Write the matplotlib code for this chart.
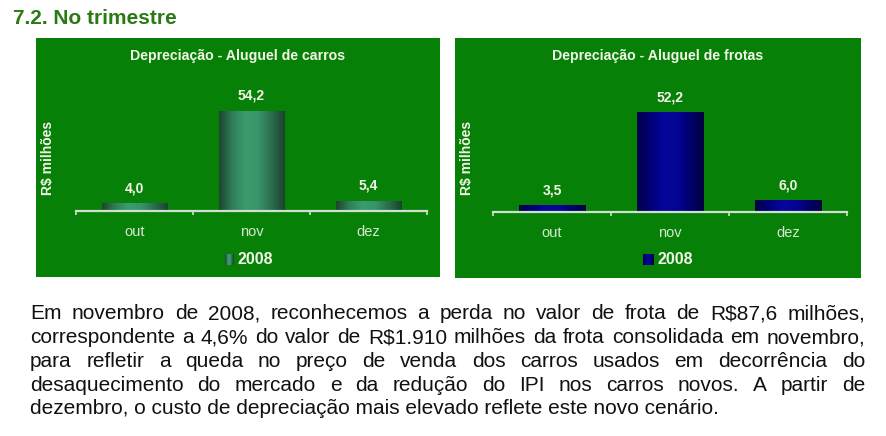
import numpy as np
import matplotlib
matplotlib.use("Agg")
import matplotlib.pyplot as plt
from matplotlib.colors import LinearSegmentedColormap

#==============================
#            DATA
#==============================
meses = ["out", "nov", "dez"]
carros = [4.0, 54.2, 5.4]
frotas = [3.5, 52.2, 6.0]
rotulos_carros = ["4,0", "54,2", "5,4"]
rotulos_frotas = ["3,5", "52,2", "6,0"]
serie = "2008"
titulo = "7.2. No trimestre"
titulo_carros = "Depreciação - Aluguel de carros"
titulo_frotas = "Depreciação - Aluguel de frotas"
ylabel = "R$ milhões"
paragrafo = [
    "Em novembro de 2008, reconhecemos a perda no valor de frota de R$87,6 milhões,",
    "correspondente a 4,6% do valor de R$1.910 milhões da frota consolidada em novembro,",
    "para refletir a queda no preço de venda dos carros usados em decorrência do",
    "desaquecimento do mercado e da redução do IPI nos carros novos. A partir de",
    "dezembro, o custo de depreciação mais elevado reflete este novo cenário.",
]

#==============================
#           STYLE
#==============================
W, H = 886, 436
PANEL = "#068006"
AXLINE = "#d0e0d0"
TXT = "#f2f5e6"
cm_green = LinearSegmentedColormap.from_list(
    "g", ["#1d4530", "#2f7f58", "#3c9c6e", "#38946a", "#2a6e4c", "#1b4230"])
cm_blue = LinearSegmentedColormap.from_list(
    "b", ["#000045", "#00007a", "#06069a", "#040494", "#00006e", "#000040"])

plt.rcParams['font.family'] = ['Liberation Sans', 'DejaVu Sans']


def fx(x):
    return x / W


def fy(y):
    return 1 - y / H


fig = plt.figure(figsize=(W / 100, H / 100), dpi=100)
fig.patch.set_facecolor("white")

fig.text(fx(13), fy(18), titulo, fontsize=15, fontweight="bold",
         color="#2a7a14", ha="left", va="center")


def painel(px0, px1, py0, py1, ax_x0, ax_x1, base, scale, vals, rots, cmap,
           tit, ylab_x, leg_x, leg_w):
    bg = fig.add_axes([fx(px0), fy(py1), fx(px1 - px0), (py1 - py0) / H], zorder=-5)
    bg.set_facecolor(PANEL)
    bg.set_xticks([])
    bg.set_yticks([])
    for s in bg.spines.values():
        s.set_visible(False)
    ymax = 70
    top = base - ymax * scale
    ax = fig.add_axes([fx(ax_x0), fy(base), fx(ax_x1 - ax_x0), (base - top) / H], zorder=1)
    ax.set_facecolor("none")
    ax.set_xlim(-0.5, 2.5)
    ax.set_ylim(0, ymax)
    grad = np.linspace(0, 1, 64).reshape(1, -1)
    bw = 0.56
    for i, v in enumerate(vals):
        ax.imshow(grad, cmap=cmap, aspect="auto",
                  extent=(i - bw / 2, i + bw / 2, 0, v), zorder=2)
        ax.annotate(rots[i], (i, v), xytext=(0, 11), textcoords="offset points",
                    ha="center", va="center", color=TXT, fontsize=10,
                    fontweight="bold")
    for s in ["top", "right", "left"]:
        ax.spines[s].set_visible(False)
    ax.spines["bottom"].set_color(AXLINE)
    ax.spines["bottom"].set_linewidth(1.6)
    ax.spines["bottom"].set_zorder(3)
    ax.set_yticks([])
    ax.set_xticks(range(len(meses)))
    ax.set_xticklabels(meses, color="#d8e8d2", fontsize=10.5)
    ax.tick_params(axis="x", which="major", length=0, pad=10)
    ax.set_xticks([-0.5, 0.5, 1.5, 2.5], minor=True)
    ax.tick_params(axis="x", which="minor", length=3, width=1.2, color=AXLINE,
                   direction="out")
    cx = (px0 + px1) / 2
    fig.text(fx(cx), fy(56), tit, ha="center", va="center", color=TXT,
             fontsize=10.2, fontweight="bold", zorder=5)
    fig.text(fx(ylab_x), fy(158), ylabel, rotation=90, ha="center", va="center",
             color=TXT, fontsize=10, fontweight="bold", zorder=5)
    # legend
    lax = fig.add_axes([fx(leg_x), fy(265), fx(leg_w), 11 / H], zorder=2)
    lax.imshow(np.linspace(0, 1, 16).reshape(1, -1), cmap=cmap, aspect="auto")
    lax.set_axis_off()
    fig.text(fx(leg_x + leg_w + 4), fy(259), serie, ha="left", va="center",
             color=TXT, fontsize=11.5, fontweight="bold", zorder=5)
    return ax


painel(36, 440, 38, 277, 76, 427, 211, 1.845, carros, rotulos_carros, cm_green,
       titulo_carros, 48, 225, 9)
painel(455, 861, 38, 278, 493, 847, 212, 1.9, frotas, rotulos_frotas, cm_blue,
       titulo_frotas, 467, 643, 11)

#==============================
#   JUSTIFIED PARAGRAPH
#==============================
fig.canvas.draw()
r = fig.canvas.get_renderer()
x_left, x_right = 30, 865
target_last = 693
t = fig.text(0, 0, paragrafo[-1], fontsize=12)
w = t.get_window_extent(r).width
t.remove()
fs = 12 * target_last / w
ys = [313, 337, 361, 385, 408]
for k, line in enumerate(paragrafo):
    words = line.split(" ")
    yb = fy(ys[k] + 6)
    if k == len(paragrafo) - 1:
        fig.text(fx(x_left), yb, line, fontsize=fs,
                 ha="left", va="baseline", color="#111111")
        continue
    objs = [fig.text(0, yb, wd, fontsize=fs,
                     ha="left", va="baseline", color="#111111") for wd in words]
    widths = [o.get_window_extent(r).width for o in objs]
    gap = (x_right - x_left - sum(widths)) / (len(words) - 1)
    x = x_left
    for o, wd in zip(objs, widths):
        o.set_x(fx(x))
        x += wd + gap

fig.savefig("out.png", dpi=100)
